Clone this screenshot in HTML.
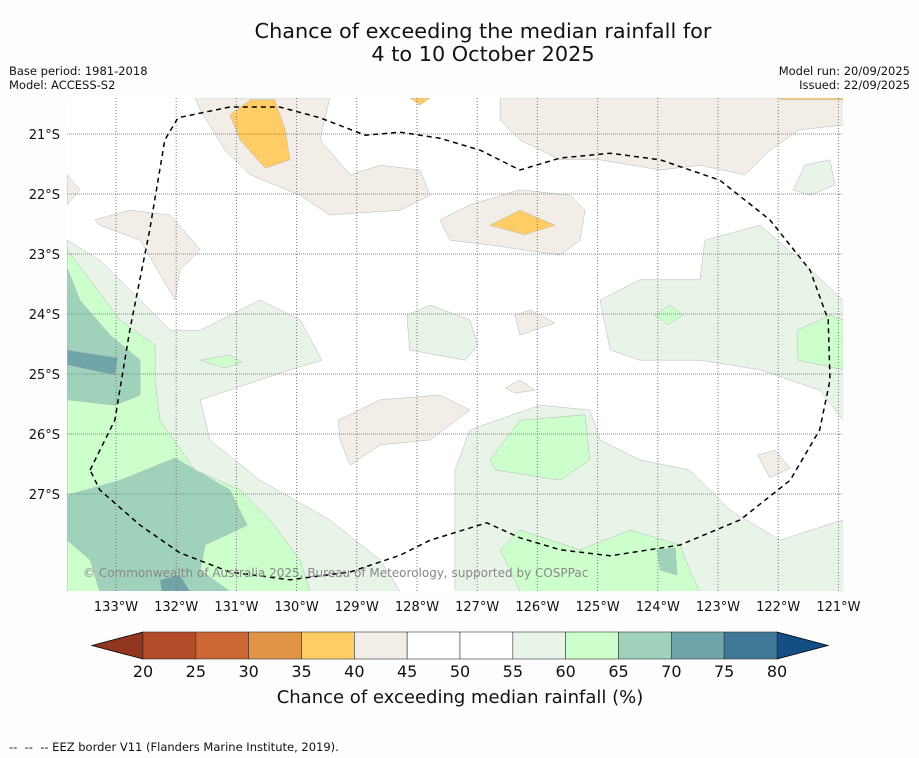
<!DOCTYPE html>
<html><head><meta charset="utf-8"><style>
body{margin:0;background:#fdfdfd;font-family:"DejaVu Sans","Liberation Sans",sans-serif;}
#wrap{position:relative;width:919px;height:758px;overflow:hidden;background:#fdfdfd}
</style></head><body>
<div id="wrap">
<svg id="svg" width="919" height="758" xmlns="http://www.w3.org/2000/svg">
<text x="483" y="38" font-size="20.8" text-anchor="middle" fill="#111">Chance of exceeding the median rainfall for</text>
<text x="483" y="61" font-size="20.8" text-anchor="middle" fill="#111">4 to 10 October 2025</text>
<text x="9" y="75" font-size="11.5" fill="#111">Base period: 1981-2018</text>
<text x="9" y="89" font-size="11.5" fill="#111">Model: ACCESS-S2</text>
<text x="910" y="75" font-size="11.5" text-anchor="end" fill="#111">Model run: 20/09/2025</text>
<text x="910" y="89" font-size="11.5" text-anchor="end" fill="#111">Issued: 22/09/2025</text>
<g id="map"></g>
<g id="cbar"></g>
<text x="460" y="703" font-size="18" text-anchor="middle" fill="#111">Chance of exceeding median rainfall (%)</text>
<text x="9" y="751" font-size="11.5" fill="#111">--&#160;&#160;--&#160;&#160;-- EEZ border V11 (Flanders Marine Institute, 2019).</text>
</svg>
</div>
<script>
const lonTicks=[133,132,131,130,129,128,127,126,125,124,123,122,121];
const latTicks=[21,22,23,24,25,26,27];
const levels=[20,25,30,35,40,45,50,55,60,65,70,75,80];
const levelColors=['#b34a2a','#cc6633','#e09445','#ffcc66','#f2ede6','#ffffff','#ffffff','#e9f4e9','#ccffcc','#9fd1bb','#6fa4a8','#3f7896'];
const lowColor='#923620', highColor='#134f85';
const lightGreen=[
[[133.81,22.77],[133.27,23.1],[132.6,23.77],[132.1,24.27],[131.6,24.27],[130.61,23.77],[129.94,24.1],[129.58,24.77],[130.11,24.93],[131.6,25.43],[131.44,26.1],[130.61,26.77],[129.45,27.43],[128.61,28.1],[128.28,28.62],[133.81,28.62]],
[[127.37,26.6],[127.12,25.93],[125.96,25.52],[125.13,25.6],[124.96,26.1],[124.3,26.43],[123.47,26.6],[122.8,27.27],[121.97,27.77],[120.92,27.43],[120.92,28.62],[127.37,28.62]],
[[124.96,23.77],[124.3,23.43],[123.3,23.43],[123.22,22.77],[122.3,22.52],[121.64,23.1],[120.92,23.77],[120.92,25.77],[121.31,25.27],[122.3,24.93],[123.3,24.77],[124.3,24.77],[124.79,24.6]],
[[121.75,21.93],[121.56,21.52],[121.14,21.43],[121.06,21.85],[121.47,22.02]],
[[128.17,24.02],[127.78,23.85],[127.12,24.1],[126.99,24.52],[127.2,24.77],[128.12,24.6]]
];
const green=[
[[133.81,22.93],[133.43,23.43],[132.93,24.1],[132.35,24.52],[132.35,25.1],[132.27,25.77],[131.69,26.6],[130.94,26.93],[130.44,27.43],[129.94,28.1],[129.78,28.62],[133.81,28.62]],
[[126.79,26.43],[126.29,25.77],[125.21,25.68],[125.13,26.43],[125.62,26.77],[126.7,26.6]],
[[126.62,27.93],[126.29,27.6],[125.29,27.93],[124.46,27.6],[123.63,27.85],[123.47,28.27],[123.3,28.62],[126.29,28.62]],
[[121.69,24.27],[121.14,24.02],[120.92,24.1],[120.92,24.93],[121.67,24.77]],
[[124.05,24.02],[123.8,23.85],[123.58,24.02],[123.83,24.18]],
[[131.6,24.77],[131.11,24.68],[130.91,24.8],[131.19,24.9]]
];
const teal=[
[[133.81,23.23],[133.6,23.77],[133.1,24.35],[132.6,24.77],[132.6,25.35],[133.02,25.52],[133.81,25.43]],
[[133.81,27.02],[132.93,26.77],[132.02,26.4],[131.11,26.93],[130.82,27.52],[131.52,27.85],[131.6,28.27],[131.11,28.62],[133.27,28.62],[133.43,28.1],[133.81,27.77]],
[[124.01,27.93],[123.71,27.9],[123.68,28.35],[123.96,28.27]]
];
const darkTeal=[
[[133.81,24.6],[132.97,24.73],[133.02,25.02],[133.81,24.85]],
[[132.27,28.43],[131.94,28.35],[131.77,28.62],[132.24,28.62]]
];
const beige=[
[[131.69,20.4],[129.45,20.4],[129.61,21.1],[129.11,21.68],[128.61,21.52],[127.95,21.6],[127.78,22.02],[128.28,22.27],[129.45,22.35],[129.94,22.02],[130.77,21.68],[131.19,21.27],[131.6,20.6]],
[[126.62,20.4],[120.92,20.4],[120.92,20.85],[121.64,20.93],[122.14,21.27],[122.55,21.68],[123.3,21.52],[123.96,21.6],[124.96,21.43],[125.62,21.43],[126.29,21.1],[126.62,20.77]],
[[127.62,22.43],[127.12,22.18],[126.29,21.93],[125.46,22.02],[125.21,22.27],[125.29,22.77],[125.62,23.02],[126.79,22.85],[127.45,22.77]],
[[133.35,22.43],[132.77,22.27],[132.1,22.35],[131.6,22.93],[131.94,23.27],[132.02,23.77],[132.6,22.77],[133.27,22.52]],
[[129.31,25.77],[128.61,25.43],[127.62,25.35],[127.12,25.6],[127.78,26.1],[128.61,26.18],[129.11,26.52],[129.28,26.1]],
[[126.37,24.02],[126.12,23.93],[125.71,24.15],[126.29,24.35]],
[[126.54,25.23],[126.29,25.1],[126.04,25.27],[126.37,25.32]],
[[122.34,26.35],[122.05,26.27],[121.8,26.57],[122.14,26.73]],
[[133.81,21.68],[133.6,21.93],[133.81,22.18]]
];
const orange=[
[[131.11,20.68],[130.77,20.43],[130.36,20.43],[130.19,20.93],[130.11,21.43],[130.52,21.57],[130.94,21.1]],
[[126.79,22.52],[126.29,22.27],[125.71,22.52],[126.21,22.68]],
[[128.12,20.4],[127.78,20.4],[127.95,20.52]],
[[121.97,20.4],[120.92,20.4],[120.92,20.43],[121.97,20.43]]
];
const eezLon=[133.43,133.02,132.77,132.44,132.19,131.97,131.11,130.28,129.61,128.86,128.28,127.62,126.95,126.29,125.62,124.79,123.96,122.97,122.14,121.47,121.17,121.14,121.31,121.8,122.63,123.63,124.79,125.62,126.29,126.84,127.78,128.28,129.11,130.11,131.11,131.94,132.6,133.27,133.43];
const eezLat=[26.6,25.77,24.27,22.6,21.1,20.73,20.55,20.55,20.73,21.02,20.97,21.07,21.27,21.6,21.4,21.32,21.43,21.77,22.43,23.27,24.1,25.1,25.93,26.77,27.43,27.85,28.03,27.93,27.73,27.48,27.77,28.02,28.3,28.43,28.3,27.98,27.52,26.93,26.6];

const NS='http://www.w3.org/2000/svg';
const X0=67,X1=843,Y0=98,Y1=591;
function xScale(lon){return 116+(133-lon)*60.2;}
function yScale(lat){return 134+(lat-21)*60;}
function cScale(v){return 143+(v-20)*(777-143)/60;}
function mk(tag,attrs,parent){const e=document.createElementNS(NS,tag);for(const k in attrs)e.setAttribute(k,attrs[k]);parent.appendChild(e);return e;}
const map=document.getElementById('map');
const clip=mk('clipPath',{id:'mc'},map);mk('rect',{x:X0,y:Y0,width:X1-X0,height:Y1-Y0},clip);
const bg=mk('rect',{x:X0,y:Y0,width:X1-X0,height:Y1-Y0,fill:'#ffffff'},map);


const fills=mk('g',{'clip-path':'url(#mc)'},map);
function drawSet(set,color,name){set.forEach(function(poly,i){
  const pts=poly.map(p=>xScale(p[0]).toFixed(1)+','+yScale(p[1]).toFixed(1)).join(' ');
  const e=mk('polygon',{points:pts,fill:color,stroke:'#b8b8b8','stroke-width':0.5},fills);
  
  
});}
drawSet(lightGreen,levelColors[7],'contour-55-60');
drawSet(green,levelColors[8],'contour-60-65');
drawSet(teal,levelColors[9],'contour-65-70');
drawSet(darkTeal,levelColors[10],'contour-70-75');
drawSet(beige,levelColors[4],'contour-40-45');
drawSet(orange,levelColors[3],'contour-35-40');
lonTicks.forEach(function(l){
  const x=xScale(l);
  const g=mk('line',{x1:x,x2:x,y1:Y0,y2:Y1,stroke:'#777','stroke-width':1,'stroke-dasharray':'1,2'},map);
  
  
  const t=mk('text',{x:x,y:611,'font-size':13,'text-anchor':'middle',fill:'#111'},map);t.textContent=l+'°W';
  
  
});
latTicks.forEach(function(l){
  const y=yScale(l);
  const g=mk('line',{x1:X0,x2:X1,y1:y,y2:y,stroke:'#888','stroke-width':1,'stroke-dasharray':'1,1'},map);
  
  
  const t=mk('text',{x:60,y:y+5,'font-size':13,'text-anchor':'end',fill:'#111'},map);t.textContent=l+'°S';
  
  
});
const eez=mk('polyline',{points:eezLon.map((l,i)=>xScale(l).toFixed(1)+','+yScale(eezLat[i]).toFixed(1)).join(' '),fill:'none',stroke:'#000','stroke-width':1.5,'stroke-dasharray':'5,4','clip-path':'url(#mc)'},map);


const cp=mk('text',{x:83,y:577,'font-size':12,fill:'#888'},map);cp.textContent='© Commonwealth of Australia 2025, Bureau of Meteorology, supported by COSPPac';


const cb=document.getElementById('cbar');
const cy0=632,cy1=659;
const la=mk('polygon',{points:`${cScale(20)},${cy0} ${cScale(20)},${cy1} 92,${(cy0+cy1)/2}`,fill:lowColor,stroke:'#000','stroke-width':0.8},cb);


const ra=mk('polygon',{points:`${cScale(80)},${cy0} ${cScale(80)},${cy1} 828,${(cy0+cy1)/2}`,fill:highColor,stroke:'#000','stroke-width':0.8},cb);


for(let i=0;i<levelColors.length;i++){
  const r=mk('rect',{x:cScale(levels[i]),y:cy0,width:cScale(levels[i+1])-cScale(levels[i]),height:cy1-cy0,fill:levelColors[i],stroke:'#333','stroke-width':0.6},cb);
  
  
}
levels.forEach(function(v){
  const t=mk('text',{x:cScale(v),y:677,'font-size':16,'text-anchor':'middle',fill:'#111'},cb);t.textContent=v;
  
  
});
</script>
</body></html>
